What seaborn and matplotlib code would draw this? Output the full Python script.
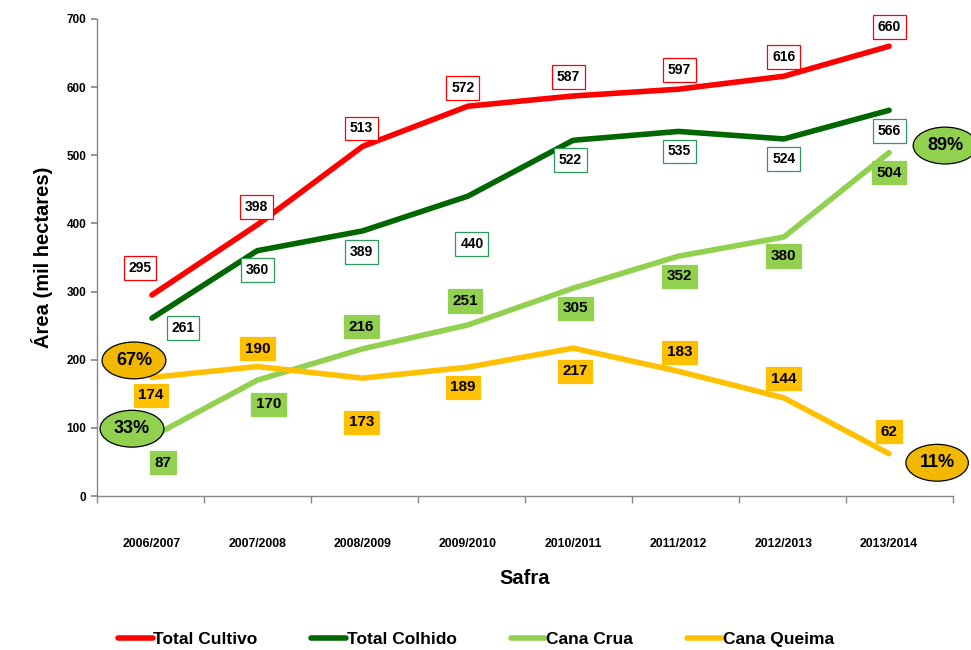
import matplotlib
matplotlib.use("Agg")
import matplotlib.pyplot as plt
from matplotlib.lines import Line2D
import numpy as np
import pandas as pd
import seaborn as sns

safras = ["2006/2007", "2007/2008", "2008/2009", "2009/2010",
          "2010/2011", "2011/2012", "2012/2013", "2013/2014"]
total_cultivo = [295, 398, 513, 572, 587, 597, 616, 660]
total_colhido = [261, 360, 389, 440, 522, 535, 524, 566]
cana_crua = [87, 170, 216, 251, 305, 352, 380, 504]
cana_queima = [174, 190, 173, 189, 217, 183, 144, 62]
series_names = ["Total Cultivo", "Total Colhido", "Cana Crua", "Cana Queima"]
colors = ["#FF0000", "#006600", "#92D050", "#FFC000"]

sns.set_theme(style="white")
plt.rcParams["font.family"] = ["Liberation Sans", "DejaVu Sans"]
plt.rcParams["font.weight"] = "bold"
plt.rcParams["text.color"] = "black"
plt.rcParams["axes.labelcolor"] = "black"
plt.rcParams["xtick.color"] = "black"
plt.rcParams["ytick.color"] = "black"

df = pd.DataFrame({
    "x": list(range(len(safras))) * 4,
    "valor": total_cultivo + total_colhido + cana_crua + cana_queima,
    "serie": sum([[n] * len(safras) for n in series_names], []),
})

fig = plt.figure(figsize=(9.71, 6.5), dpi=100)
ax = fig.add_axes([0.0999, 0.2369, 0.8816, 0.7339])

sns.lineplot(data=df, x="x", y="valor", hue="serie", palette=colors,
             hue_order=series_names, linewidth=4, legend=False, ax=ax,
             solid_capstyle="round")

xmin, xmax = -0.522, 7.607
ax.set_xlim(xmin, xmax)
ax.set_ylim(0, 700)
ax.set_yticks(range(0, 701, 100))
bounds = np.linspace(xmin, xmax, 9)
ax.set_xticks(range(len(safras)))
ax.set_xticklabels(safras, fontsize=8.8, fontweight="bold")
ax.set_xticks(bounds, minor=True)
ax.tick_params(axis="x", which="major", length=0, pad=30)
ax.tick_params(axis="x", which="minor", length=5, direction="out", color="#888888", bottom=True)
ax.tick_params(axis="y", length=4, direction="out", color="#888888", left=True, labelsize=8.5)
for t in ax.get_yticklabels():
    t.set_fontweight("bold")
for side in ["top", "right"]:
    ax.spines[side].set_visible(False)
for side in ["left", "bottom"]:
    ax.spines[side].set_color("#888888")
    ax.spines[side].set_linewidth(1)

ax.set_xlabel("Safra", fontsize=14.5, fontweight="bold", labelpad=14)
ax.set_ylabel("Área (mil hectares)", fontsize=14.5, fontweight="bold", labelpad=10)

# label offsets in pixels (dx, dy)
off_cultivo = [(-12, 27), (-1, 18), (-1, 18), (-5, 18), (-5, 19), (1, 19), (0, 19), (0, 19)]
off_colhido = [(31, -10), (0, -19), (-1, -21), (4, -48), (-3, -20), (1, -20), (0, -20), (0, -21)]
off_crua = [(11, -26), (11, -24), (-1, 22), (-3, 24), (2, -20), (1, -20), (0, -19), (0, -20)]
off_queima = [(-1, -18), (0, 18), (-1, -44), (-5, -20), (2, -23), (1, 19), (0, 19), (0, 22)]

box_styles = [
    dict(fc="white", ec="#FF0000", fs=10, pad=0.35),
    dict(fc="white", ec="#2E9A5B", fs=10, pad=0.35),
    dict(fc="#92D050", ec="#92D050", fs=11, pad=0.3),
    dict(fc="#FFC000", ec="#FFC000", fs=11, pad=0.3),
]
all_vals = [total_cultivo, total_colhido, cana_crua, cana_queima]
all_offs = [off_cultivo, off_colhido, off_crua, off_queima]
for vals, offs, st in zip(all_vals, all_offs, box_styles):
    for i, (v, (dx, dy)) in enumerate(zip(vals, offs)):
        ax.annotate(str(v), (i, v), xytext=(dx, dy), textcoords="offset pixels",
                    ha="center", va="center", fontsize=st["fs"], fontweight="bold",
                    bbox=dict(boxstyle=f"square,pad={st['pad']}", fc=st["fc"], ec=st["ec"], lw=0.9),
                    zorder=5)

# percentage ellipses
last = len(safras) - 1
pcts = [
    (0, cana_queima[0], cana_queima[0] / total_colhido[0], "#F2B800", (-18, 17)),
    (0, cana_crua[0], cana_crua[0] / total_colhido[0], "#92D050", (-20, 8)),
    (last, cana_crua[last], cana_crua[last] / total_colhido[last], "#92D050", (56, 7)),
    (last, cana_queima[last], cana_queima[last] / total_colhido[last], "#F2B800", (48, -9)),
]
for x, v, p, c, (dx, dy) in pcts:
    ax.annotate(f"{round(p * 100)}%", (x, v), xytext=(dx, dy), textcoords="offset pixels",
                ha="center", va="center", fontsize=13, fontweight="bold",
                bbox=dict(boxstyle="ellipse,pad=0.25", fc=c, ec="black", lw=0.9),
                zorder=6, annotation_clip=False)

handles = [Line2D([0], [0], color=c, lw=4, solid_capstyle="round") for c in colors]
fig.legend(handles, series_names, loc="center", bbox_to_anchor=(0.49, 0.016), ncol=4,
           frameon=False, handlelength=2.0, handletextpad=0.05,
           columnspacing=3.1, prop=dict(weight="bold", size=12.5))

fig.savefig("out.png", dpi=100)
